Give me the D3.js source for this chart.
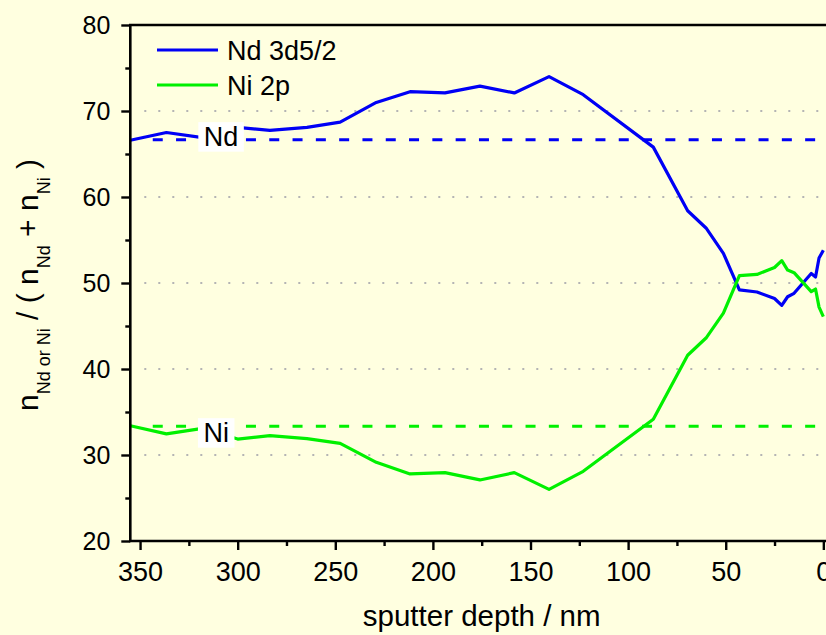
<!DOCTYPE html>
<html>
<head>
<meta charset="utf-8">
<script src="https://cdn.jsdelivr.net/npm/d3@7"></script>
<style>
  html, body { margin: 0; padding: 0; background: #ffffe0; }
  svg { display: block; }
  text { font-family: "Liberation Sans", Arial, Helvetica, sans-serif; fill: #000; }
</style>
</head>
<body>
<svg id="chart" width="826" height="635"></svg>
<script>
// XPS depth profile: atomic fraction of Nd and Ni versus sputter depth
const depth    = [355, 336.5, 318, 300, 283.5, 264.5, 247.5, 229, 211.7, 193.8, 175.9, 158.3, 140.5, 123,
                  87.1, 69.5, 60.1, 51.2, 43, 34, 25, 21.3, 18.3, 15, 6.2, 4, 2.2, 0];
const ndSignal = [66.6, 67.5, 66.9, 68.1, 67.75, 68.1, 68.7, 71.0, 72.25, 72.1, 72.9, 72.1, 74.0, 71.9,
                  65.8, 58.4, 56.4, 53.45, 49.2, 48.95, 48.2, 47.4, 48.4, 48.8, 51.1, 50.7, 52.9, 53.8];
const niSignal = [33.4, 32.45, 33.1, 31.85, 32.25, 31.9, 31.35, 29.15, 27.8, 27.95, 27.1, 27.95, 26.0, 28.1,
                  34.15, 41.6, 43.6, 46.5, 50.85, 51.0, 51.8, 52.6, 51.5, 51.2, 49.0, 49.3, 47.2, 46.1];

const seriesNames  = ["Nd 3d5/2", "Ni 2p"];
const seriesColors = ["#0000f5", "#00f000"];

// nominal composition of the compound (Nd : Ni = 2 : 1)
const refNames  = ["Nd", "Ni"];
const refValues = [200 / 3, 100 / 3];

const xMajorTicks = [350, 300, 250, 200, 150, 100, 50, 0];
const xMinorTicks = [325, 275, 225, 175, 125, 75, 25];
const yMajorTicks = [20, 30, 40, 50, 60, 70, 80];
const yMinorTicks = [25, 35, 45, 55, 65, 75];
const gridValues  = [30, 40, 50, 60, 70];

// ---- layout ----
const W = 826, H = 635;
const plotLeft = 130.3, plotTop = 25, plotBottom = 541, plotRight = 833.1;

const x = d3.scaleLinear().domain([355, -5]).range([plotLeft, plotRight]);
const y = d3.scaleLinear().domain([20, 80]).range([plotBottom, plotTop]);

const svg = d3.select("#chart");
svg.append("rect").attr("width", W).attr("height", H).attr("fill", "#ffffe0");

svg.append("defs").append("clipPath").attr("id", "plotClip")
  .append("rect").attr("x", plotLeft).attr("y", plotTop)
  .attr("width", plotRight - plotLeft).attr("height", plotBottom - plotTop);

// dotted horizontal grid
svg.append("g").selectAll("line").data(gridValues).join("line")
  .attr("x1", plotLeft + 14).attr("x2", W)
  .attr("y1", d => y(d)).attr("y2", d => y(d))
  .attr("stroke", "#b4b4b4").attr("stroke-width", 2)
  .attr("stroke-dasharray", "2 12");

// dashed nominal-composition lines
const refStart = 343.5;
svg.append("g").selectAll("line").data(refValues).join("line")
  .attr("x1", x(refStart)).attr("x2", W)
  .attr("y1", d => y(d)).attr("y2", d => y(d))
  .attr("stroke", (d, i) => seriesColors[i]).attr("stroke-width", 3)
  .attr("stroke-dasharray", "10 13.3");

// data lines
const line = d3.line().x(d => x(d[0])).y(d => y(d[1]));
const seriesData = [ndSignal, niSignal].map(vals => depth.map((d, i) => [d, vals[i]]));
svg.append("g").attr("clip-path", "url(#plotClip)")
  .selectAll("path").data(seriesData).join("path")
  .attr("d", line)
  .attr("fill", "none")
  .attr("stroke", (d, i) => seriesColors[i])
  .attr("stroke-width", 3.2)
  .attr("stroke-linejoin", "round");

// boxed labels on the nominal lines
const refLabelPos = [[308.5, 65.97], [311, 31.55]];
refNames.forEach((name, i) => {
  const g = svg.append("g");
  const t = g.append("text")
    .attr("x", x(refLabelPos[i][0])).attr("y", y(refLabelPos[i][1]))
    .attr("text-anchor", "middle").attr("font-size", 27).text(name);
  const b = t.node().getBBox();
  g.insert("rect", "text")
    .attr("x", b.x - 5.5).attr("y", b.y + 0.5)
    .attr("width", b.width + 11).attr("height", b.height - 0.5)
    .attr("fill", "#ffffff");
});

// axes
function styleAxis(g) {
  g.select(".domain").remove();
  g.selectAll(".tick line").attr("stroke", "#000").attr("stroke-width", 2.4);
}

svg.append("g").attr("transform", `translate(${plotLeft},0)`)
  .call(d3.axisLeft(y).tickValues(yMinorTicks).tickSize(5).tickFormat(""))
  .call(styleAxis);
svg.append("g").attr("transform", `translate(${plotLeft},0)`)
  .call(d3.axisLeft(y).tickValues(yMajorTicks).tickSize(9).tickPadding(11).tickFormat(d3.format("d")))
  .call(styleAxis)
  .call(g => g.selectAll("text").attr("font-size", 25).attr("font-family", null).attr("fill", "#000"));

svg.append("g").attr("transform", `translate(0,${plotBottom})`)
  .call(d3.axisBottom(x).tickValues(xMinorTicks).tickSize(5).tickFormat(""))
  .call(styleAxis);
svg.append("g").attr("transform", `translate(0,${plotBottom})`)
  .call(d3.axisBottom(x).tickValues(xMajorTicks).tickSize(9).tickPadding(12).tickFormat(d3.format("d")))
  .call(styleAxis)
  .call(g => g.selectAll("text").attr("font-size", 27).attr("font-family", null).attr("fill", "#000"));

// frame
svg.append("path")
  .attr("d", `M${W + 2},${plotTop}H${plotLeft}V${plotBottom}H${W + 2}`)
  .attr("fill", "none").attr("stroke", "#000").attr("stroke-width", 2.6)
  .attr("stroke-linecap", "square");

// legend
const legend = svg.append("g");
seriesNames.forEach((name, i) => {
  const ly = 50 + i * 35;
  legend.append("line").attr("x1", 157).attr("x2", 218).attr("y1", ly).attr("y2", ly)
    .attr("stroke", seriesColors[i]).attr("stroke-width", 3);
  legend.append("text").attr("x", 227).attr("y", ly + 9.5).attr("font-size", 27).text(name);
});

// axis titles
svg.append("text")
  .attr("x", 481.7).attr("y", 626).attr("text-anchor", "middle").attr("font-size", 29.5)
  .text("sputter depth / nm");

const yTitle = svg.append("text")
  .attr("transform", "translate(37.5,285) rotate(-90)")
  .attr("text-anchor", "middle").attr("font-size", 30);
const parts = [["n", false], ["Nd or Ni", true], [" / ( n", false], ["Nd", true],
               [" + n", false], ["Ni", true], [" )", false]];
let shifted = false;
parts.forEach(([s, sub]) => {
  const ts = yTitle.append("tspan").text(s);
  if (sub) { ts.attr("font-size", 18).attr("dy", shifted ? 0 : 12); shifted = true; }
  else if (shifted) { ts.attr("dy", -12); shifted = false; }
});
</script>
</body>
</html>
